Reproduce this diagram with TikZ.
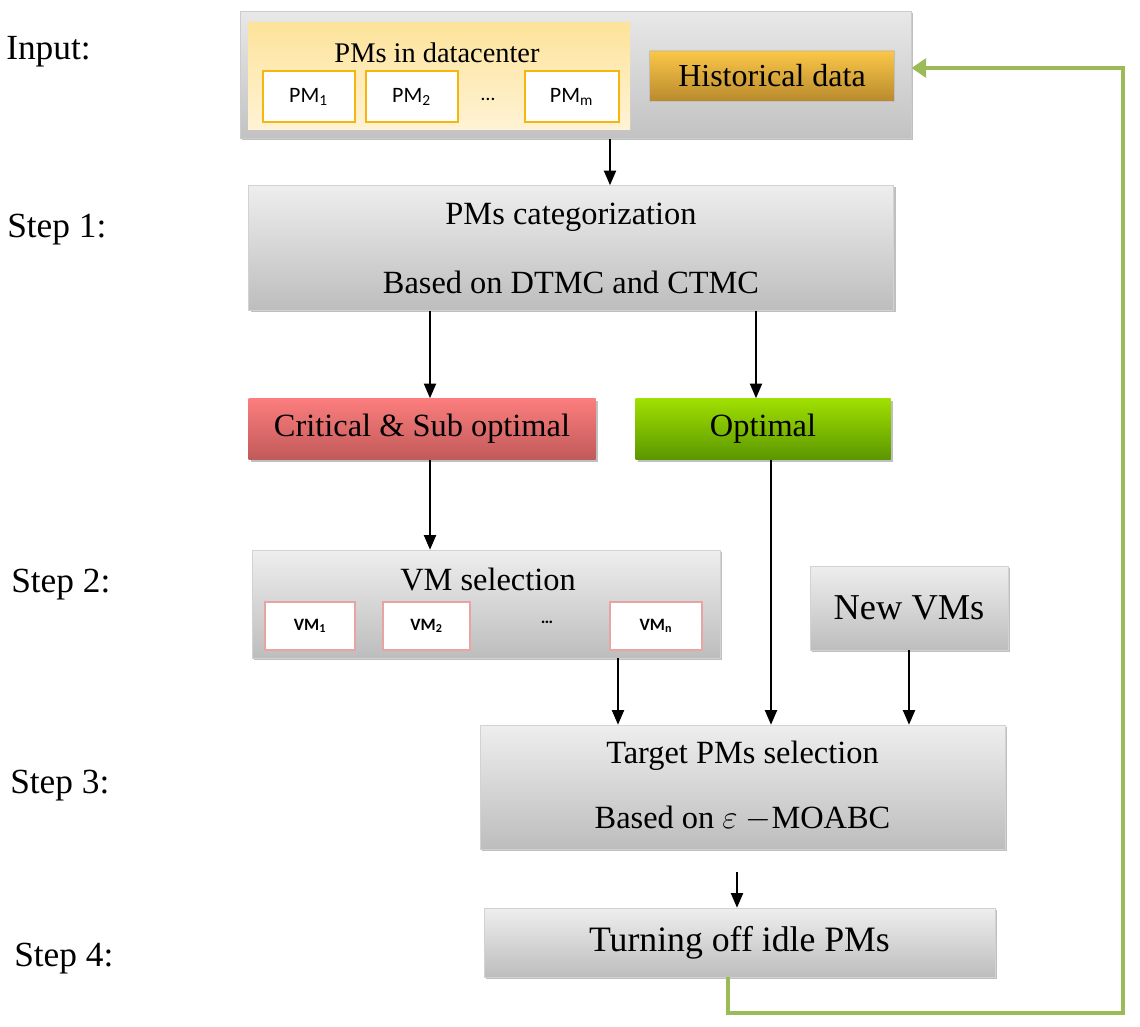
\documentclass[tikz,border=0pt]{standalone}
\usepackage{fontspec}
\setmainfont{Liberation Serif}
\newfontfamily\pmfont{Carlito}
\usetikzlibrary{arrows.meta,shadows}
\definecolor{gtop}{HTML}{EEEEEE}
\definecolor{gbot}{HTML}{BDBDBD}
\definecolor{intop}{HTML}{E8E8E8}
\definecolor{inbot}{HTML}{C2C2C2}
\definecolor{yeltop}{HTML}{FDE39A}
\definecolor{yelbot}{HTML}{FFF3D6}
\definecolor{pmborder}{HTML}{F5B70F}
\definecolor{histtop}{HTML}{FBC748}
\definecolor{histbot}{HTML}{B98A2D}
\definecolor{crittop}{HTML}{FD7D7D}
\definecolor{critbot}{HTML}{C05A5A}
\definecolor{opttop}{HTML}{A0E000}
\definecolor{optbot}{HTML}{5B9600}
\definecolor{vmborder}{HTML}{E8A3A3}
\definecolor{loopgreen}{HTML}{9BBB59}
\begin{document}
\begin{tikzpicture}[x=0.75pt,y=-0.75pt,
  sz/.style 2 args={minimum width=#1*0.75pt, minimum height=#2*0.75pt, inner sep=0pt},
  shad/.style={drop shadow={shadow xshift=1.5pt, shadow yshift=-1.5pt, opacity=0.25, fill=black}},
  graybox/.style={draw=gray!35, line width=0.4pt, top color=gtop, bottom color=gbot, shad},
  inbox/.style={draw=gray!40, line width=0.6pt, top color=intop, bottom color=inbot, shad},
  yelbox/.style={top color=yeltop, bottom color=yelbot, draw=none},
  pmbox/.style={draw=pmborder, line width=1.5pt, fill=white, font=\pmfont\fontsize{16.5}{18}\selectfont},
  vmbox/.style={draw=vmborder, line width=1pt, fill=white, font=\pmfont\bfseries\fontsize{13}{15}\selectfont},
  histbox/.style={top color=histtop, bottom color=histbot, draw=gray!50, line width=0.3pt, font=\fontsize{24}{27}\selectfont},
  critbox/.style={top color=crittop, bottom color=critbot, draw=none, shad, font=\fontsize{24.3}{27}\selectfont},
  optbox/.style={top color=opttop, bottom color=optbot, draw=none, shad, font=\fontsize{24.3}{27}\selectfont},
  txt/.style={inner sep=0pt, font=\fontsize{24.3}{27}\selectfont},
  lab/.style={inner sep=0pt, anchor=base west, font=\fontsize{26.5}{30}\selectfont},
  arr/.style={-{Triangle[length=11pt,width=9pt]}, line width=1.6pt, black},
  garr/.style={-{Triangle[length=11pt,width=14pt]}, line width=3.5pt, loopgreen}]
\useasboundingbox (0,0) rectangle (1140,1027);

% step labels
\node[lab] (linput) at (6,60) {Input:};
\node[lab] (lstep1) at (7,238) {Step 1:};
\node[lab] (lstep2) at (11,592) {Step 2:};
\node[lab] (lstep3) at (10,793) {Step 3:};
\node[lab] (lstep4) at (14,966) {Step 4:};

% input
\node[inbox, sz={671}{127}] (input) at (575.5,75) {};
\node[yelbox, sz={382}{107}] (pmsdc) at (439,76.5) {};
\node[txt, font=\fontsize{21.3}{24}\selectfont] (pmsdct) at (437,53) {PMs in datacenter};
\node[pmbox, sz={92}{51}] (pm1) at (308.5,97) {PM\textsubscript{1}};
\node[pmbox, sz={92}{51}] (pm2) at (411.5,97) {PM\textsubscript{2}};
\node[txt, font=\pmfont\fontsize{15}{17}\selectfont] (pmdots) at (488,99) {\dots};
\node[pmbox, sz={94}{51}] (pmm) at (571.5,97) {PM\textsubscript{m}};
\node[histbox, sz={245}{50}] (hist) at (772,76) {Historical data};

% step 1
\node[graybox, sz={645}{125}] (s1) at (571,248) {};
\node[txt] (s1a) at (571,217) {PMs categorization};
\node[txt] (s1b) at (571,282) {Based on DTMC and CTMC};

% categories
\node[critbox, sz={347}{61}] (crit) at (422,429) {Critical \& Sub optimal};
\node[optbox, sz={255}{61}] (opt) at (763,429) {Optimal};

% step 2
\node[graybox, sz={468}{108}] (vmsel) at (486,604) {};
\node[txt] (vmselt) at (488,580) {VM selection};
\node[vmbox, sz={90}{48}] (vm1) at (310,626) {VM\textsubscript{1}};
\node[vmbox, sz={87}{48}] (vm2) at (426.5,626) {VM\textsubscript{2}};
\node[txt, font=\pmfont\bfseries\fontsize{13}{15}\selectfont] (vmdots) at (547,622) {\dots};
\node[vmbox, sz={92}{48}] (vmn) at (656,626) {VM\textsubscript{n}};
\node[graybox, sz={198}{84}, font=\fontsize{27.3}{30}\selectfont] (newvm) at (909,608) {New VMs};

% step 3
\node[graybox, sz={525}{124}] (target) at (742.5,787) {};
\node[txt] (ta) at (742.5,756) {Target PMs selection};
\node[txt] (tb) at (742.5,819) {Based on $\varepsilon$ $-$MOABC};

% step 4
\node[graybox, sz={511}{69}, font=\fontsize{26.8}{30}\selectfont] (turn) at (739.5,942.5) {Turning off idle PMs};

% arrows
\draw[arr] (610,0 |- input.south) -- (610,0 |- s1.north);
\draw[arr] (430,0 |- s1.south) -- (430,0 |- crit.north);
\draw[arr] (756,0 |- s1.south) -- (756,0 |- opt.north);
\draw[arr] (430,0 |- crit.south) -- (430,0 |- vmsel.north);
\draw[arr] (618,0 |- vmsel.south) -- (618,0 |- target.north);
\draw[arr] (771,0 |- opt.south) -- (771,0 |- target.north);
\draw[arr] (newvm.south) -- (newvm.south |- target.north);
\coordinate (c34) at (737,872);
\draw[arr] (c34) -- (c34 |- turn.north);

% feedback loop
\coordinate (g1) at (728,1013);
\coordinate (g2) at (1123,1013);
\coordinate (g3) at (1123,68);
\draw[garr, line join=miter] (g1 |- turn.south) -- (g1) -- (g2) -- (g3) -- (input.east |- g3);
\end{tikzpicture}
\end{document}
